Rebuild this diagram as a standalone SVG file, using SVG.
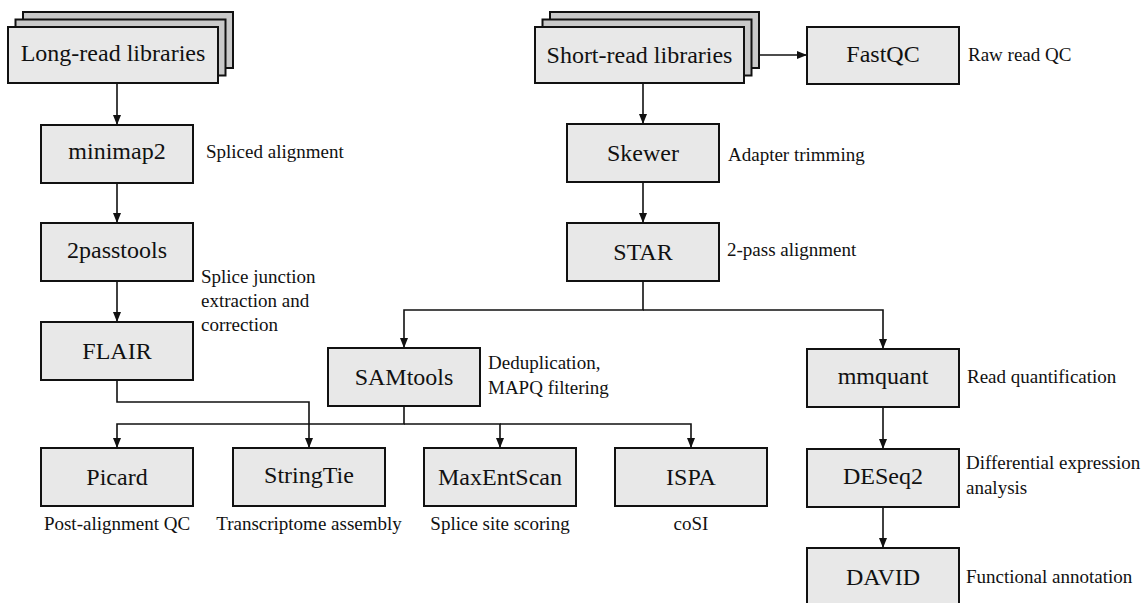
<svg xmlns="http://www.w3.org/2000/svg" width="1146" height="603" viewBox="0 0 1146 603">
<style>
.box{fill:#e8e8e8;stroke:#111;stroke-width:2}
.back{fill:#c9c9c9;stroke:#111;stroke-width:2}
text{font-family:'Liberation Serif','Nimbus Roman','Tinos','Times New Roman',Times,'DejaVu Serif',serif;fill:#111}
.t{font-size:24px;text-anchor:middle}
.l{font-size:19px}
.lc{font-size:19px;text-anchor:middle}
.c{fill:none;stroke:#111;stroke-width:1.6}
</style>
<defs>
<marker id="ah" markerWidth="10" markerHeight="10" refX="9" refY="5" orient="auto" markerUnits="userSpaceOnUse">
<path d="M0,1 L10,5 L0,9 Z" fill="#111"/>
</marker>
</defs>
<rect width="1146" height="603" fill="#ffffff"/>
<g id="connectors">
<path class="c" d="M117,83 V124" marker-end="url(#ah)"/>
<path class="c" d="M117,183 V222" marker-end="url(#ah)"/>
<path class="c" d="M117,281 V321" marker-end="url(#ah)"/>
<path class="c" d="M759,55 H806" marker-end="url(#ah)"/>
<path class="c" d="M643,83 V123" marker-end="url(#ah)"/>
<path class="c" d="M643,182 V222" marker-end="url(#ah)"/>
<path class="c" d="M643,281 V310 H404 V347" marker-end="url(#ah)"/>
<path class="c" d="M643,310 H883 V348" marker-end="url(#ah)"/>
<path class="c" d="M117,380 V402 H309 V447" marker-end="url(#ah)"/>
<path class="c" d="M404,406 V424 H117 V447" marker-end="url(#ah)"/>
<path class="c" d="M404,424 H500 V447" marker-end="url(#ah)"/>
<path class="c" d="M500,424 H691 V447" marker-end="url(#ah)"/>
<path class="c" d="M883,407 V448" marker-end="url(#ah)"/>
<path class="c" d="M883,507 V547" marker-end="url(#ah)"/>
</g>
<g id="long-read">
<rect class="back" x="23" y="12" width="210" height="56"/>
<rect class="back" x="15.5" y="19.5" width="210" height="56"/>
<rect class="box" x="8" y="27" width="210" height="56"/>
<text class="t" x="113" y="61">Long-read libraries</text>
</g>
<g id="short-read">
<rect class="back" x="550" y="12" width="209" height="56"/>
<rect class="back" x="542.5" y="19.5" width="209" height="56"/>
<rect class="box" x="535" y="27" width="209" height="56"/>
<text class="t" x="639.5" y="63">Short-read libraries</text>
</g>
<g id="fastqc">
<rect class="box" x="807" y="27" width="152" height="57"/>
<text class="t" x="883" y="62">FastQC</text>
<text class="l" x="968" y="61">Raw read QC</text>
</g>
<g id="minimap2">
<rect class="box" x="41" y="125" width="152" height="58"/>
<text class="t" x="117" y="159">minimap2</text>
<text class="l" x="206" y="158">Spliced alignment</text>
</g>
<g id="twopasstools">
<rect class="box" x="41" y="223" width="152" height="58"/>
<text class="t" x="117" y="257.5">2passtools</text>
<text class="l" x="201" y="283">Splice junction</text>
<text class="l" x="201" y="307">extraction and</text>
<text class="l" x="201" y="331">correction</text>
</g>
<g id="flair">
<rect class="box" x="41" y="322" width="152" height="58"/>
<text class="t" x="117" y="359">FLAIR</text>
</g>
<g id="skewer">
<rect class="box" x="567" y="124" width="152" height="58"/>
<text class="t" x="643" y="161">Skewer</text>
<text class="l" x="728" y="161">Adapter trimming</text>
</g>
<g id="star">
<rect class="box" x="567" y="223" width="152" height="58"/>
<text class="t" x="643" y="260">STAR</text>
<text class="l" x="727" y="256">2-pass alignment</text>
</g>
<g id="samtools">
<rect class="box" x="328" y="348" width="152" height="58"/>
<text class="t" x="404" y="385">SAMtools</text>
<text class="l" x="488" y="369">Deduplication,</text>
<text class="l" x="488" y="394">MAPQ filtering</text>
</g>
<g id="mmquant">
<rect class="box" x="807" y="349" width="152" height="58"/>
<text class="t" x="883" y="383.5">mmquant</text>
<text class="l" x="967" y="383">Read quantification</text>
</g>
<g id="picard">
<rect class="box" x="41" y="448" width="152" height="58"/>
<text class="t" x="117" y="485">Picard</text>
<text class="lc" x="117" y="530">Post-alignment QC</text>
</g>
<g id="stringtie">
<rect class="box" x="233" y="448" width="152" height="58"/>
<text class="t" x="309" y="482.5">StringTie</text>
<text class="lc" x="309" y="530">Transcriptome assembly</text>
</g>
<g id="maxentscan">
<rect class="box" x="424" y="448" width="152" height="58"/>
<text class="t" x="500" y="485">MaxEntScan</text>
<text class="lc" x="500" y="530">Splice site scoring</text>
</g>
<g id="ispa">
<rect class="box" x="615" y="448" width="152" height="58"/>
<text class="t" x="691" y="485">ISPA</text>
<text class="lc" x="691" y="530">coSI</text>
</g>
<g id="deseq2">
<rect class="box" x="807" y="449" width="152" height="58"/>
<text class="t" x="883" y="483.5">DESeq2</text>
<text class="l" x="966" y="469">Differential expression</text>
<text class="l" x="966" y="494">analysis</text>
</g>
<g id="david">
<rect class="box" x="807" y="548" width="152" height="58"/>
<text class="t" x="883" y="585">DAVID</text>
<text class="l" x="966" y="583">Functional annotation</text>
</g>
</svg>
